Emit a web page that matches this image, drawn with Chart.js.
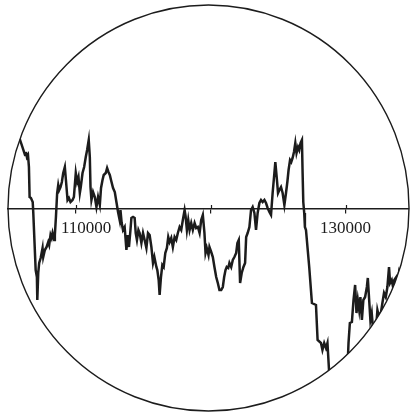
<!DOCTYPE html>
<html><head><meta charset="utf-8">
<style>html,body{margin:0;padding:0;background:#fff}#wrap{width:410px;height:414px}</style>
<script src="https://cdn.jsdelivr.net/npm/chart.js@4"></script>
</head><body>
<div id="wrap"><canvas id="c" width="410" height="414"></canvas></div>
<script>
const xValues = [105440,105920,106260,106330,106400,106480,106550,106600,106700,106830,106870,107050,107140,107170,107240,107310,107420,107560,107610,107730,107860,107980,108050,108150,108230,108300,108420,108470,108550,108640,108720,108790,108890,108990,109090,109210,109290,109410,109510,109630,109780,109880,110020,110120,110220,110320,110390,110520,110640,110760,110860,110980,111060,111110,111180,111300,111430,111550,111670,111800,111890,112000,112090,112240,112340,112440,112540,112630,112780,112910,113030,113150,113270,113330,113420,113520,113640,113770,113870,113960,114070,114140,114260,114380,114460,114550,114660,114750,114880,115000,115120,115250,115370,115490,115620,115740,115840,115990,116060,116160,116230,116330,116430,116530,116650,116770,116870,116970,117090,117210,117340,117460,117580,117710,117830,117950,118080,118150,118250,118350,118450,118570,118690,118820,118940,119060,119190,119310,119430,119550,119630,119720,119850,119920,120050,120170,120290,120420,120540,120660,120790,120910,121010,121110,121200,121310,121400,121530,121650,121770,121900,121990,122090,122190,122310,122440,122560,122640,122750,122880,123000,123120,123250,123370,123490,123620,123740,123860,123990,124110,124230,124360,124480,124600,124730,124800,124900,125000,125100,125220,125340,125470,125590,125690,125780,125890,125980,126080,126180,126280,126370,126480,126570,126670,126770,126820,126870,126940,126990,127070,127310,127510,127810,127930,128180,128290,128420,128550,128660,128790,129090,129530,129970,130140,130220,130320,130470,130590,130710,130810,130910,131010,131100,131210,131320,131450,131580,131650,131750,131840,131940,132040,132240,132360,132480,132630,132730,132850,132980,133100,133220,133300,133420,133520,133610,133760,133870,133960,134090,134210,134330,134460,134570,134700];
const yValues = [89,68,54,57,52,54,42,12,11,7,-3,-61,-68,-91,-64,-54,-49,-39,-48,-41,-38,-33,-36,-26,-29,-24,-31,-26,-8,16,24,19,22,27,36,42,29,9,11,7,9,12,36,27,32,16,22,36,42,52,59,69,52,22,9,17,12,2,12,4,21,29,34,36,41,37,34,29,21,17,7,-3,-11,-1,-14,-21,-18,-41,-26,-38,-21,-9,-8,-9,-24,-31,-21,-24,-34,-24,-31,-39,-24,-26,-38,-54,-48,-58,-61,-71,-86,-68,-56,-58,-44,-39,-28,-33,-29,-38,-28,-31,-24,-18,-21,-11,-1,-7,-21,-11,-21,-14,-21,-14,-19,-18,-24,-11,-6,-24,-44,-39,-46,-38,-43,-48,-58,-68,-74,-81,-81,-78,-68,-61,-58,-59,-54,-58,-51,-48,-44,-34,-31,-74,-64,-58,-54,-28,-24,-18,-1,2,-4,-21,-4,6,9,7,9,6,1,-3,-6,16,36,47,32,16,19,22,16,4,16,27,39,49,47,51,57,66,56,62,59,66,69,36,7,-4,-18,-21,-58,-94,-96,-131,-134,-141,-134,-139,-134,-164,-186,-191,-176,-161,-134,-114,-113,-91,-76,-104,-91,-101,-88,-111,-91,-88,-78,-69,-91,-111,-104,-121,-123,-101,-108,-103,-94,-84,-88,-78,-58,-74,-71,-78,-71,-68,-74,-64,-71,-71,-68,-61,-54,-53];
const tickValues = [110000,120000,130000];
const tickLabels = ['     110000','','130000'];

const ink = '#1c1c1c';
const circlePlugin = {
  id:'circleFrame',
  beforeDatasetsDraw(chart){
    const a = chart.chartArea, c = chart.ctx;
    c.save();
    c.beginPath();
    c.ellipse((a.left+a.right)/2,(a.top+a.bottom)/2,(a.right-a.left)/2,(a.bottom-a.top)/2,0,0,Math.PI*2);
    c.clip();
  },
  afterDatasetsDraw(chart){ chart.ctx.restore(); },
  afterDraw(chart){
    const a = chart.chartArea, c = chart.ctx;
    c.save();
    c.strokeStyle = ink; c.lineWidth = 1.4;
    c.beginPath();
    c.ellipse((a.left+a.right)/2,(a.top+a.bottom)/2,(a.right-a.left)/2,(a.bottom-a.top)/2,0,0,Math.PI*2);
    c.stroke();
    const xs = chart.scales.x, y0 = chart.scales.y.getPixelForValue(0);
    c.lineWidth = 1.2;
    xs.ticks.forEach(t=>{
      const px = Math.round(xs.getPixelForValue(t.value))+0.5;
      c.beginPath(); c.moveTo(px,y0-4); c.lineTo(px,y0); c.stroke();
    });
    c.restore();
  }
};

new Chart(document.getElementById('c'), {
  type:'line',
  data:{datasets:[{
    data: xValues.map((x,i)=>({x:x, y:yValues[i]})),
    borderColor: ink, borderWidth: 2.5, pointRadius: 0, tension: 0,
    borderJoinStyle:'miter', fill:false
  }]},
  options:{
    responsive:false, animation:false, devicePixelRatio:1,
    layout:{padding:{left:8,right:1,top:5,bottom:3}},
    plugins:{legend:{display:false}, tooltip:{enabled:false}},
    scales:{
      x:{
        type:'linear', min:105000, max:134700,
        position:{y:0},
        afterFit(s){ s.height = 0; },
        afterBuildTicks(s){ s.ticks = tickValues.map(v=>({value:v})); },
        grid:{drawOnChartArea:false, drawTicks:true, tickLength:4, color:ink, lineWidth:1.2},
        border:{color:ink, width:1.5},
        ticks:{
          callback:(v,i)=>tickLabels[i],
          font:{family:'Liberation Serif', size:17},
          color:ink, maxRotation:0, autoSkip:false, padding:5
        }
      },
      y:{display:false, min:-202, max:204}
    }
  },
  plugins:[circlePlugin]
});
</script>
</body></html>
